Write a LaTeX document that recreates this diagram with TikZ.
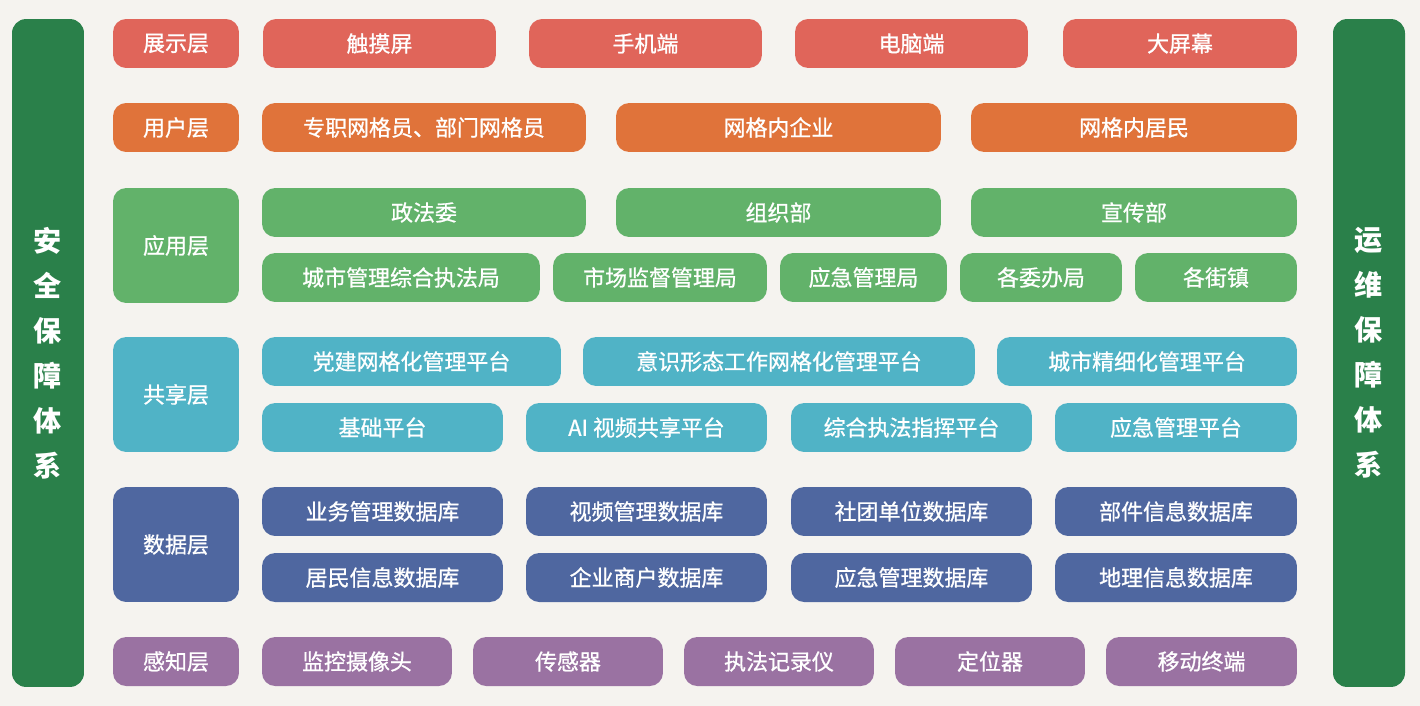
\documentclass[tikz,border=0pt]{standalone}
\usepackage{fontspec}
\setmainfont{Noto Sans CJK SC}
\newfontfamily\cellfont[FakeBold=0.9]{Noto Sans CJK SC}
\usepackage{tikz}
\usetikzlibrary{positioning}
\definecolor{PageBg}    {RGB}{245, 243, 239}
\definecolor{GuardGreen}{RGB}{42,  128,  74}
\definecolor{ShowRed}   {RGB}{224, 101,  90}
\definecolor{UserOrange}{RGB}{224, 115,  58}
\definecolor{AppGreen}  {RGB}{98,  178, 106}
\definecolor{ShareTeal} {RGB}{80,  179, 198}
\definecolor{DataNavy}  {RGB}{79,  103, 160}
\definecolor{SensePurple}{RGB}{154, 114, 162}

\begin{document}
\begin{tikzpicture}[
  x=0.02cm, y=-0.02cm,
  cell/.style={
    rounded corners=7.5pt,
    inner sep=0pt, text=white,
    font=\cellfont\fontsize{12.5}{14}\selectfont,
    minimum height=0.98cm},
  layer/.style={
    cell, minimum width=2.52cm},
  guard/.style={
    fill=GuardGreen, rounded corners=8pt,
    minimum width=1.44cm, minimum height=13.36cm,
    inner sep=0pt, text=white, align=center,
    font=\fontsize{16}{25.6}\selectfont\bfseries},
  show/.style={cell, fill=ShowRed},
  user/.style={cell, fill=UserOrange},
  app/.style={cell, fill=AppGreen},
  share/.style={cell, fill=ShareTeal},
  data/.style={cell, fill=DataNavy},
  sense/.style={cell, fill=SensePurple}
]
\fill[PageBg] (0,0) rectangle (1420,706);
\useasboundingbox (0,0) rectangle (1420,706);

% side bars
\node[guard] (safety) at (48,353)
  {安\\全\\保\\障\\体\\系};
\node[guard] (ops) at (1369,353)
  {运\\维\\保\\障\\体\\系};

% layer labels
\node[layer, show] (lshow) at (176,43.5) {展示层};
\node[layer, user] (luser) at (176,127.5) {用户层};
\node[layer, app, minimum height=2.3cm] (lapp) at (176,245.5) {应用层};
\node[layer, share, minimum height=2.3cm] (lshare) at (176,394.5) {共享层};
\node[layer, data, minimum height=2.3cm] (ldata) at (176,544.5) {数据层};
\node[layer, sense] (lsense) at (176,661.5) {感知层};

% display layer
\node[show, minimum width=4.66cm] (touch) at (379.5,43.5) {触摸屏};
\node[show, minimum width=4.66cm] (phone) at (645.5,43.5) {手机端};
\node[show, minimum width=4.66cm] (pc) at (911.5,43.5) {电脑端};
\node[show, minimum width=4.68cm] (screen) at (1180,43.5) {大屏幕};

% user layer
\node[user, minimum width=6.48cm] (grider) at (424,127.5)
  {专职网格员、部门网格员};
\node[user, minimum width=6.5cm] (firm) at (778.5,127.5) {网格内企业};
\node[user, minimum width=6.52cm] (resident) at (1134,127.5) {网格内居民};

% application layer
\node[app, minimum width=6.48cm] (zfw) at (424,212.5) {政法委};
\node[app, minimum width=6.5cm] (zzb) at (778.5,212.5) {组织部};
\node[app, minimum width=6.52cm] (xcb) at (1134,212.5) {宣传部};
\node[app, minimum width=5.56cm] (cgj) at (401,277.5) {城市管理综合执法局};
\node[app, minimum width=4.28cm] (scj) at (660,277.5) {市场监督管理局};
\node[app, minimum width=3.34cm] (yjj) at (863.5,277.5) {应急管理局};
\node[app, minimum width=3.24cm] (wbj) at (1041,277.5) {各委办局};
\node[app, minimum width=3.24cm] (jz) at (1216,277.5) {各街镇};

% shared layer
\node[share, minimum width=5.98cm] (djpt) at (411.5,361.5) {党建网格化管理平台};
\node[share, minimum width=7.84cm] (yspt) at (779,361.5) {意识形态工作网格化管理平台};
\node[share, minimum width=6cm] (jxpt) at (1147,361.5) {城市精细化管理平台};
\node[share, minimum width=4.82cm] (jcpt) at (382.5,427.5) {基础平台};
\node[share, minimum width=4.82cm] (aipt) at (646.5,427.5) {AI 视频共享平台};
\node[share, minimum width=4.82cm] (zfpt) at (911.5,427.5) {综合执法指挥平台};
\node[share, minimum width=4.84cm] (yjpt) at (1176,427.5) {应急管理平台};

% data layer
\node[data, minimum width=4.82cm] (ywk) at (382.5,511.5) {业务管理数据库};
\node[data, minimum width=4.82cm] (spk) at (646.5,511.5) {视频管理数据库};
\node[data, minimum width=4.82cm] (stk) at (911.5,511.5) {社团单位数据库};
\node[data, minimum width=4.84cm] (bjk) at (1176,511.5) {部件信息数据库};
\node[data, minimum width=4.82cm] (jmk) at (382.5,577.5) {居民信息数据库};
\node[data, minimum width=4.82cm] (qyk) at (646.5,577.5) {企业商户数据库};
\node[data, minimum width=4.82cm] (yjk) at (911.5,577.5) {应急管理数据库};
\node[data, minimum width=4.84cm] (dlk) at (1176,577.5) {地理信息数据库};

% sensing layer
\node[sense, minimum width=3.8cm] (cam) at (357,661.5) {监控摄像头};
\node[sense, minimum width=3.8cm] (sensor) at (568,661.5) {传感器};
\node[sense, minimum width=3.8cm] (recorder) at (779,661.5) {执法记录仪};
\node[sense, minimum width=3.8cm] (locator) at (990,661.5) {定位器};
\node[sense, minimum width=3.82cm] (mobile) at (1201.5,661.5) {移动终端};
\end{tikzpicture}
\end{document}
